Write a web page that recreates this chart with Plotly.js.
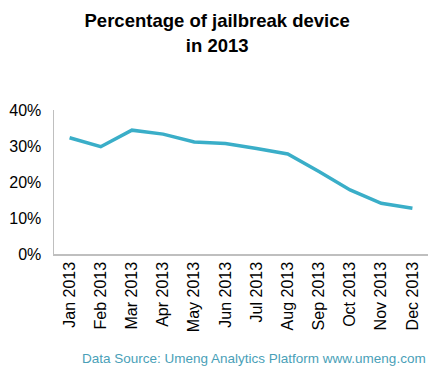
<!DOCTYPE html>
<html><head><meta charset="utf-8">
<script src="https://cdn.plot.ly/plotly-3.0.1.min.js"></script>
<style>html,body{margin:0;padding:0;background:#fff}#c{width:437px;height:366px}</style>
</head><body><div id="c"></div>
<script>
const months = ["Jan 2013","Feb 2013","Mar 2013","Apr 2013","May 2013","Jun 2013","Jul 2013","Aug 2013","Sep 2013","Oct 2013","Nov 2013","Dec 2013"];
const jailbreakPct = [0.323,0.298,0.344,0.333,0.311,0.307,0.293,0.278,0.229,0.178,0.141,0.127];
const yTicks = [0,0.1,0.2,0.3,0.4];
const yTickText = ["0%","10%","20%","30%","40%"];

const trace = {x: months, y: jailbreakPct, type:'scatter', mode:'lines',
  line:{color:'#3aaec8', width:3.5}, hoverinfo:'skip'};
const layout = {
  width:437, height:366,
  margin:{l:54, r:9, t:110, b:112},
  paper_bgcolor:'#fff', plot_bgcolor:'#fff',
  showlegend:false,
  font:{family:'Arial, "Liberation Sans", sans-serif', color:'#000'},
  title:{text:'<b>Percentage of jailbreak device<br>in 2013</b>', x:0.497, xanchor:'center', y:0.925, yanchor:'top',
    font:{size:18.5, color:'#000'}},
  xaxis:{type:'category', range:[-0.5,11.5], showgrid:false, zeroline:false, showline:true, linecolor:'#bfbfbf', linewidth:1.5,
    ticks:'', tickangle:-90, tickfont:{size:16}, fixedrange:true},
  yaxis:{range:[0,0.4], tickvals:yTicks, ticktext:yTickText, showgrid:false, zeroline:false, showline:true, linecolor:'#bfbfbf', linewidth:1.5,
    ticks:'', tickfont:{size:16}, ticklabelstandoff:8, fixedrange:true},
  annotations:[{text:'Data Source: Umeng Analytics Platform www.umeng.com', xref:'paper', yref:'paper', x:1.0, xanchor:'right', y:-0.728, yanchor:'middle',
    showarrow:false, font:{size:13.5, color:'#4a9fb8'}}]
};
Plotly.newPlot('c',[trace],layout,{displayModeBar:false, staticPlot:true});
</script></body></html>
